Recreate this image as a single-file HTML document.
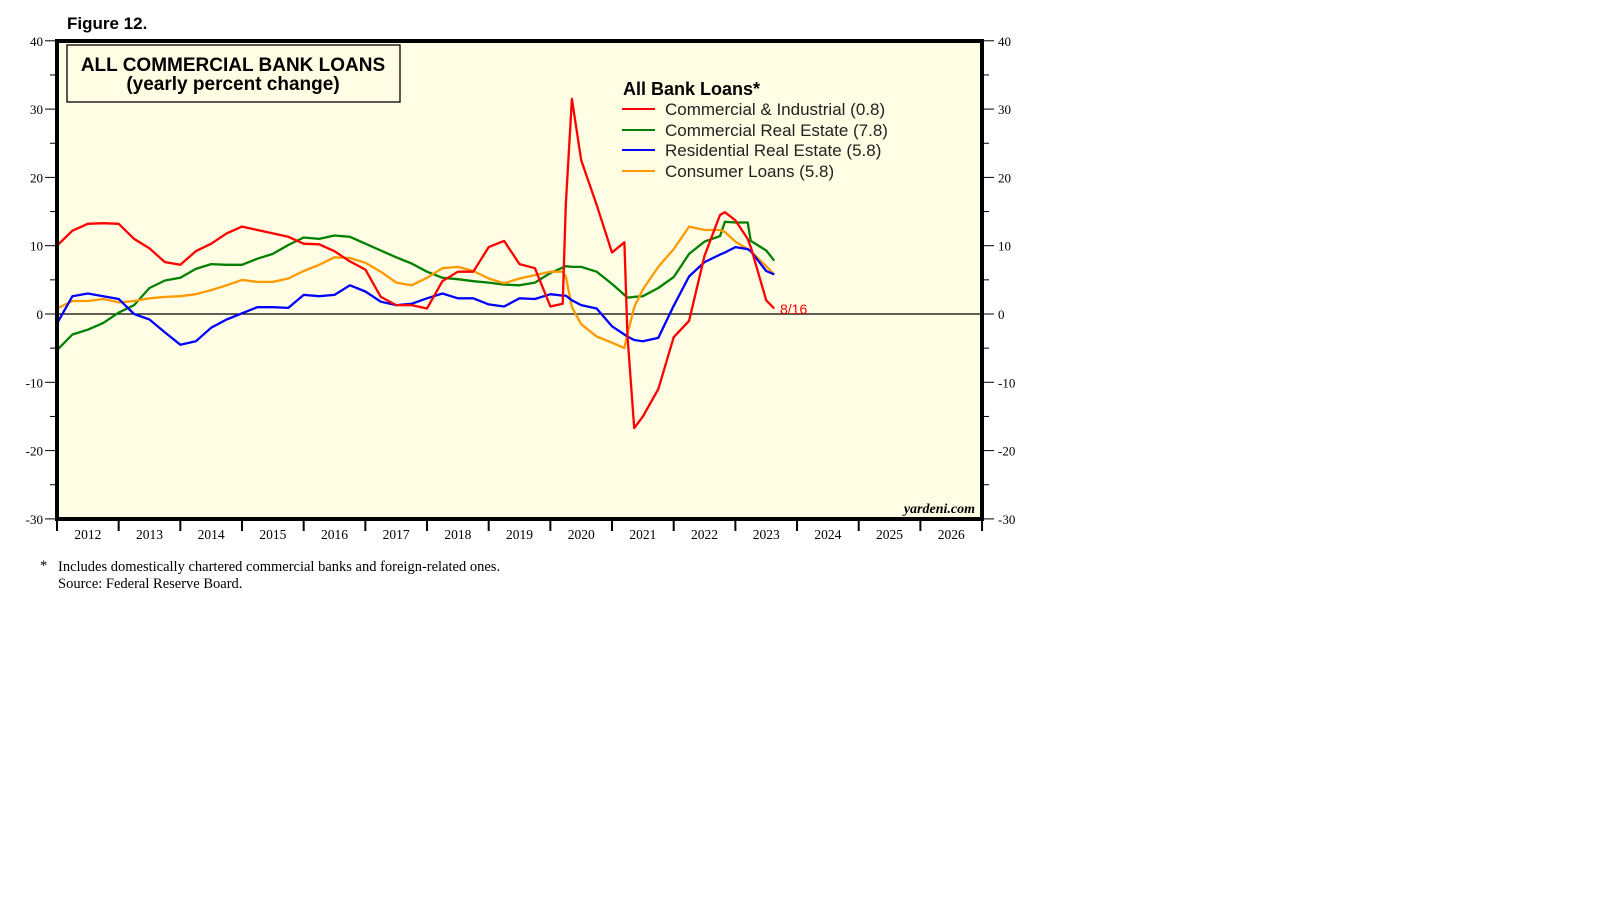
<!DOCTYPE html>
<html><head><meta charset="utf-8"><style>
html,body{margin:0;padding:0;background:#fff;}
svg{display:block;}
</style></head><body>
<svg width="1610" height="910" viewBox="0 0 1610 910" xmlns="http://www.w3.org/2000/svg">
<text x="67" y="29" font-family="Liberation Sans, sans-serif" font-weight="bold" font-size="17">Figure 12.</text>
<rect x="57" y="41" width="925" height="478" fill="#fffde3"/>
<g id="axes"></g>
<g id="series"></g>
<line x1="57" y1="41" x2="57" y2="519" stroke="#000" stroke-width="4"/>
<line x1="982" y1="41" x2="982" y2="519" stroke="#000" stroke-width="4"/>
<line x1="55" y1="41" x2="984" y2="41" stroke="#000" stroke-width="4"/>
<line x1="55" y1="519" x2="984" y2="519" stroke="#000" stroke-width="4"/>
<g>
<rect x="67" y="45" width="333" height="57" fill="#fffde3" stroke="#000" stroke-width="1.3"/>
<text x="233" y="71" text-anchor="middle" font-family="Liberation Sans, sans-serif" font-weight="bold" font-size="19">ALL COMMERCIAL BANK LOANS</text>
<text x="233" y="90" text-anchor="middle" font-family="Liberation Sans, sans-serif" font-weight="bold" font-size="19">(yearly percent change)</text>
</g>
<g font-family="Liberation Sans, sans-serif">
<text x="623" y="95" font-weight="bold" font-size="18">All Bank Loans*</text>
<g><line x1="622" y1="109" x2="655" y2="109" stroke="#ff0000" stroke-width="2"/><text x="665" y="115" font-size="17" fill="#222">Commercial &amp; Industrial (0.8)</text></g>
<g><line x1="622" y1="130" x2="655" y2="130" stroke="#008000" stroke-width="2"/><text x="665" y="136" font-size="17" fill="#222">Commercial Real Estate (7.8)</text></g>
<g><line x1="622" y1="150" x2="655" y2="150" stroke="#0000ff" stroke-width="2"/><text x="665" y="156" font-size="17" fill="#222">Residential Real Estate (5.8)</text></g>
<g><line x1="622" y1="171" x2="655" y2="171" stroke="#ff9900" stroke-width="2"/><text x="665" y="177" font-size="17" fill="#222">Consumer Loans (5.8)</text></g>
</g>
<text x="780" y="314" font-family="Liberation Sans, sans-serif" font-size="14" fill="#ff0000">8/16</text>
<text x="975" y="513" text-anchor="end" font-family="Liberation Serif, serif" font-style="italic" font-weight="bold" font-size="14">yardeni.com</text>
<g font-family="Liberation Serif, serif" font-size="14.5">
<text x="40" y="570">*</text>
<text x="58" y="571">Includes domestically chartered commercial banks and foreign-related ones.</text>
<text x="58" y="588">Source: Federal Reserve Board.</text>
</g>
</svg>
<script>
const yTicks = [40,30,20,10,0,-10,-20,-30];
const years = [2012,2013,2014,2015,2016,2017,2018,2019,2020,2021,2022,2023,2024,2025,2026];
const dates = [2012,2012.25,2012.5,2012.75,2013,2013.25,2013.5,2013.75,2014,2014.25,2014.5,2014.75,2015,2015.25,2015.5,2015.75,2016,2016.25,2016.5,2016.75,2017,2017.25,2017.5,2017.75,2018,2018.25,2018.5,2018.75,2019,2019.25,2019.5,2019.75,2020,
 2020.2,2020.25,2020.35,2020.5,2020.75,2021,2021.2,2021.25,2021.36,2021.5,2021.75,2022,2022.25,2022.5,2022.75,2022.83,2023,2023.2,2023.25,2023.5,2023.63];
const ciValues = [10,12.2,13.2,13.3,13.2,11,9.6,7.6,7.2,9.2,10.3,11.8,12.8,12.3,11.8,11.3,10.3,10.2,9.2,7.7,6.5,2.5,1.3,1.3,0.8,4.8,6.2,6.2,9.8,10.7,7.3,6.7,1.1,
 1.5,16,31.5,22.5,16,9,10.5,-3,-16.7,-15,-11,-3.4,-1,8.5,14.5,14.9,13.7,11,9.8,2,0.8];
const creValues = [-5.3,-3,-2.3,-1.3,0.2,1.3,3.8,4.9,5.3,6.6,7.3,7.2,7.2,8.1,8.8,10.1,11.2,11,11.5,11.3,10.3,9.3,8.3,7.4,6.2,5.3,5.1,4.8,4.6,4.3,4.2,4.6,6,
 6.8,7,6.9,6.9,6.2,4.4,2.8,2.4,2.5,2.6,3.8,5.4,8.8,10.6,11.4,13.5,13.4,13.4,10.7,9.3,7.8];
const rreValues = [-1.4,2.6,3,2.6,2.2,0,-0.8,-2.7,-4.5,-4,-2,-0.8,0.1,1,1,0.9,2.8,2.6,2.8,4.2,3.3,1.8,1.3,1.5,2.3,3,2.3,2.3,1.4,1.1,2.3,2.2,2.9,
 2.7,2.7,2,1.3,0.8,-1.8,-3,-3.3,-3.8,-4,-3.5,1.2,5.5,7.6,8.7,9,9.8,9.5,9.2,6.3,5.8];
const consumerValues = [0.8,1.9,1.9,2.2,1.7,1.9,2.3,2.5,2.6,2.9,3.5,4.2,5,4.7,4.7,5.2,6.3,7.2,8.3,8.2,7.5,6.2,4.6,4.2,5.3,6.7,6.9,6.3,5.2,4.5,5.2,5.7,6.2,
 6.2,5.5,1,-1.5,-3.3,-4.2,-5,-3,1,3.6,6.9,9.5,12.8,12.3,12.3,12,10.6,9.5,9.2,7,5.8];

const NS = 'http://www.w3.org/2000/svg';
const X0 = 57, YEARW = 61.67, Y0 = 314, PERUNIT = 6.83;
function xScale(t){ return X0 + (t - 2012) * YEARW; }
function yScale(v){ return Y0 - v * PERUNIT; }
function mk(tag, attrs, parent){ const e = document.createElementNS(NS, tag); for (const k in attrs) e.setAttribute(k, attrs[k]); parent.appendChild(e); return e; }

const axes = document.getElementById('axes');
const zl = mk('line', {x1: 57, x2: 982, y1: yScale(0), y2: yScale(0), stroke: '#000', 'stroke-width': 1.3}, axes);


for (const v of yTicks) {
  const y = yScale(v);
  const tl = mk('line', {x1: 45, x2: 57, y1: y, y2: y, stroke: '#000', 'stroke-width': 1}, axes);
  
  
  const tr = mk('line', {x1: 982, x2: 994, y1: y, y2: y, stroke: '#000', 'stroke-width': 1}, axes);
  
  
  const lb = mk('text', {x: 43, y: y + 5, 'text-anchor': 'end', 'font-family': 'Liberation Serif, serif', 'font-size': 13}, axes);
  lb.textContent = v;
  
  
  const rb = mk('text', {x: 998, y: y + 5, 'font-family': 'Liberation Serif, serif', 'font-size': 13}, axes);
  rb.textContent = v;
  
  
}
for (let i = 0; i < yTicks.length - 1; i++) {
  const y = yScale((yTicks[i] + yTicks[i + 1]) / 2);
  const ml = mk('line', {x1: 50, x2: 57, y1: y, y2: y, stroke: '#000', 'stroke-width': 1}, axes);
  
  
  const mr = mk('line', {x1: 982, x2: 989, y1: y, y2: y, stroke: '#000', 'stroke-width': 1}, axes);
  
  
}
for (let i = 0; i <= years.length; i++) {
  const x = xScale(2012 + i);
  const t = mk('line', {x1: x, x2: x, y1: 519, y2: 531, stroke: '#000', 'stroke-width': 2}, axes);
  
  
}
years.forEach(function(yr){
  const lb = mk('text', {x: xScale(yr + 0.5), y: 539, 'text-anchor': 'middle', 'font-family': 'Liberation Serif, serif', 'font-size': 13.5}, axes);
  lb.textContent = yr;
  
  
});

const seriesG = document.getElementById('series');
function drawSeries(vals, color, name){
  let d = '';
  vals.forEach(function(v, i){ d += (i ? 'L' : 'M') + xScale(dates[i]).toFixed(1) + ',' + yScale(v).toFixed(1); });
  const p = mk('path', {d: d, fill: 'none', stroke: color, 'stroke-width': 2.3, 'stroke-linejoin': 'round'}, seriesG);
  
  
}
drawSeries(creValues, '#008000', 'commercial-real-estate-line');
drawSeries(consumerValues, '#ff9900', 'consumer-loans-line');
drawSeries(rreValues, '#0000ff', 'residential-real-estate-line');
drawSeries(ciValues, '#ff0000', 'commercial-industrial-line');
</script>
</body></html>
